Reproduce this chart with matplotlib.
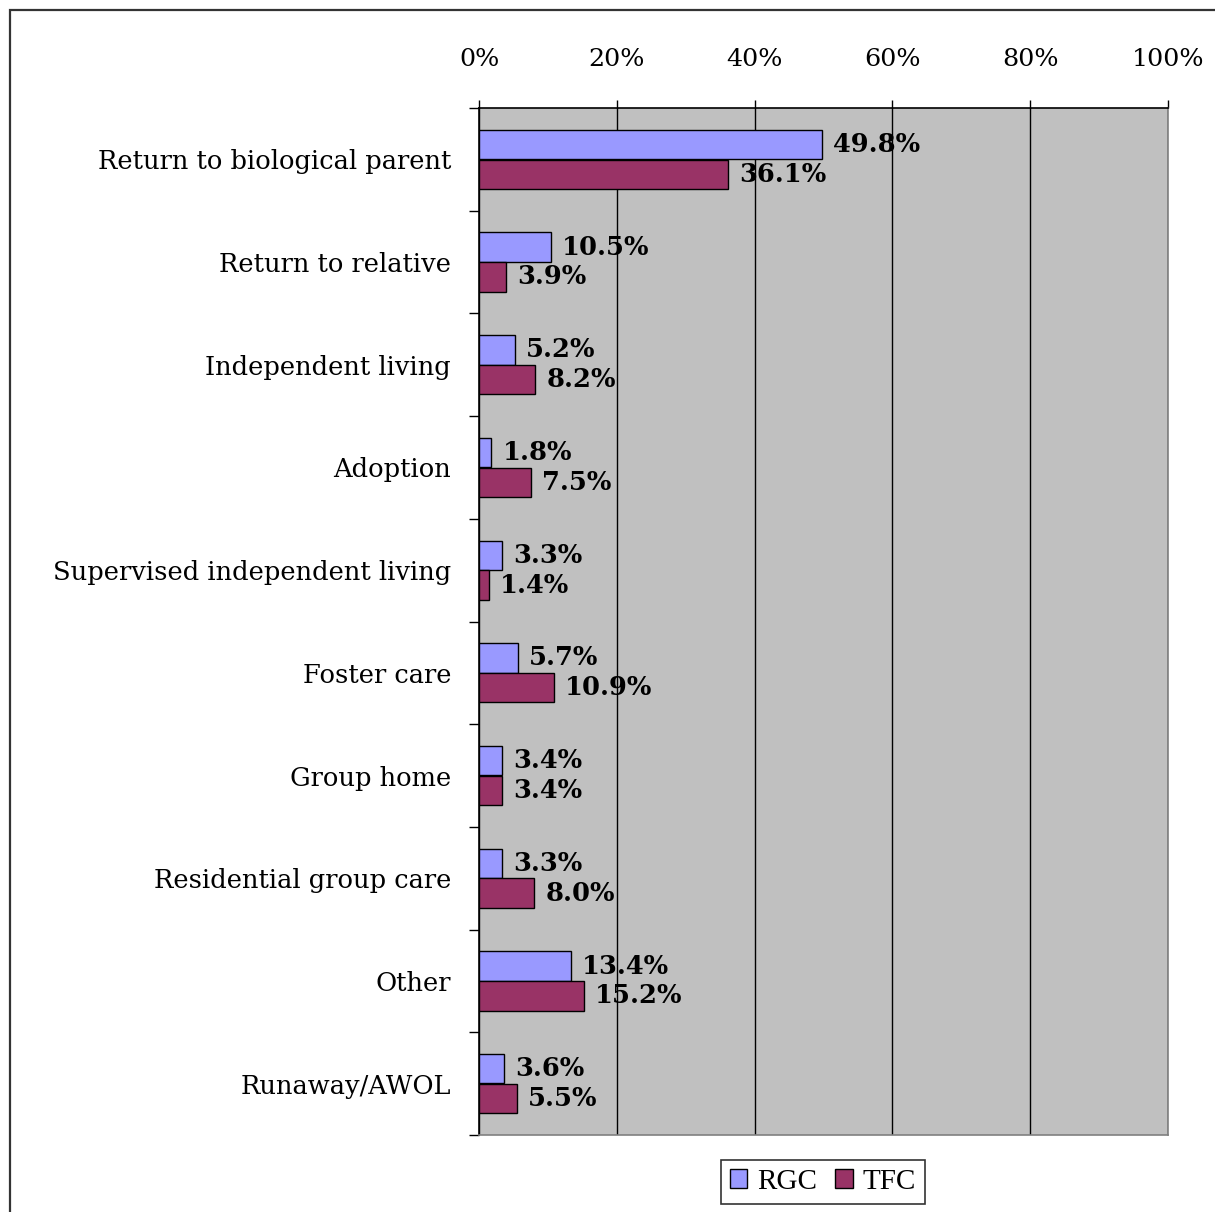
import numpy as np
import matplotlib
matplotlib.use("Agg")
import matplotlib.pyplot as plt
from matplotlib.patches import Rectangle

categories = ["Return to biological parent", "Return to relative", "Independent living",
              "Adoption", "Supervised independent living", "Foster care", "Group home",
              "Residential group care", "Other", "Runaway/AWOL"]
rgc = [49.8, 10.5, 5.2, 1.8, 3.3, 5.7, 3.4, 3.3, 13.4, 3.6]
tfc = [36.1, 3.9, 8.2, 7.5, 1.4, 10.9, 3.4, 8.0, 15.2, 5.5]
series = ["RGC", "TFC"]
xticks = [0, 20, 40, 60, 80, 100]

fig = plt.figure(figsize=(12.15, 12.12), dpi=100)
ax = fig.add_axes([479/1215, 1 - 1135/1212, 689/1215, 1027/1212])
ax.set_facecolor("#C0C0C0")

y = np.arange(len(categories))
h = 0.287
off = 0.145
b1 = ax.barh(y - off, rgc, height=h, color="#9999FF", edgecolor="black", linewidth=1, label=series[0], zorder=3)
b2 = ax.barh(y + off, tfc, height=h, color="#993366", edgecolor="black", linewidth=1, label=series[1], zorder=3)

lab_font = dict(family="DejaVu Serif", fontsize=18.5, fontweight="bold", va="center", ha="left")
for yi, v in zip(y, rgc):
    ax.text(v + 1.6, yi - off, f"{v:.1f}%", zorder=4, **lab_font)
for yi, v in zip(y, tfc):
    ax.text(v + 1.6, yi + off, f"{v:.1f}%", zorder=4, **lab_font)

ax.set_xlim(0, 100)
ax.set_ylim(len(categories) - 0.5, -0.5)

ax.xaxis.tick_top()
ax.set_xticks(xticks)
ax.set_xticklabels([f"{t}%" for t in xticks], family="DejaVu Serif", fontsize=18.3)
ax.tick_params(axis="x", direction="out", length=6, width=1, pad=21, top=True, bottom=False)
ax.grid(axis="x", color="black", linewidth=1, zorder=1)

ax.set_yticks(y)
ax.set_yticklabels(categories, family="DejaVu Serif", fontsize=18.5)
ax.tick_params(axis="y", which="major", length=0, pad=20)
ax.set_yticks(np.arange(-0.5, len(categories)), minor=True)
ax.tick_params(axis="y", which="minor", direction="out", length=7, width=1)

ax.spines["left"].set_color("black")
ax.spines["top"].set_color("black")
ax.spines["right"].set_color("#808080")
ax.spines["bottom"].set_color("#808080")
for s in ax.spines.values():
    s.set_linewidth(1.2)

leg = fig.legend(handles=[b1, b2], labels=series, loc="center", bbox_to_anchor=(823/1215, 1 - 1182/1212),
                 ncol=2, frameon=True, fancybox=False, edgecolor="black", handlelength=0.6, handleheight=0.6,
                 handletextpad=0.35, columnspacing=0.6, borderpad=0.3, borderaxespad=0,
                 prop={"family": "Liberation Serif", "size": 21})
leg.get_frame().set_linewidth(1.2)

fig.patches.append(Rectangle((10/1215, -0.1), 1.2, 1.1 - 10/1212, transform=fig.transFigure,
                             fill=False, edgecolor="#333333", linewidth=1.6))

fig.savefig("out.png", dpi=100)
